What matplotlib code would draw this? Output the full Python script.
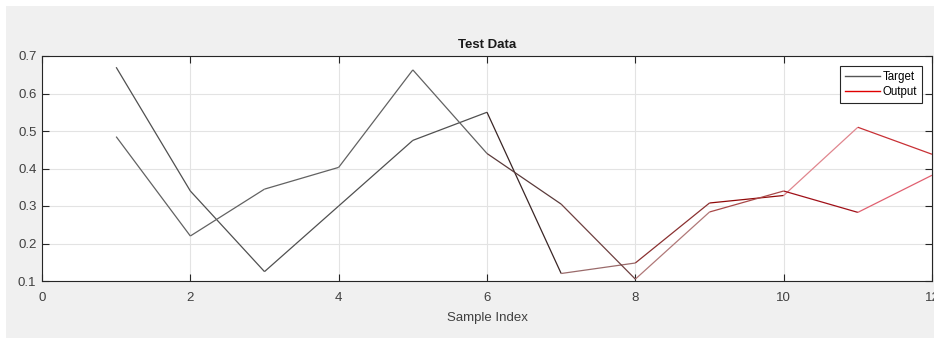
import matplotlib
matplotlib.use("Agg")
import matplotlib.pyplot as plt
from matplotlib.patches import Rectangle
from matplotlib.lines import Line2D

plt.rcParams['font.family'] = ['Liberation Sans', 'DejaVu Sans']

# Data
sample_index = [1, 2, 3, 4, 5, 6, 7, 8, 9, 10, 11, 12]
series_a = [0.670, 0.340, 0.125, 0.300, 0.475, 0.550, 0.120, 0.148, 0.308, 0.328, 0.510, 0.438]
series_b = [0.485, 0.220, 0.345, 0.403, 0.663, 0.440, 0.305, 0.105, 0.284, 0.340, 0.283, 0.382]
legend_labels = ["Target", "Output"]
x_ticks = [0, 2, 4, 6, 8, 10, 12]
y_ticks = [0.1, 0.2, 0.3, 0.4, 0.5, 0.6, 0.7]

# Segment colours (style)
colors_a = ['#505050'] * 5 + ['#3a2626', '#9a6a6a', '#8a3030', '#900808', '#e0868e', '#c83035']
colors_b = ['#626262'] * 5 + ['#5a3a3a', '#6e4040', '#b07878', '#a84848', '#a01018', '#e06070']

W, H = 934, 338
fig = plt.figure(figsize=(W / 100, H / 100), dpi=100, facecolor='white')
fig.patches.append(Rectangle((6 / W, 0), 1 - 6 / W, 1 - 6 / H, transform=fig.transFigure,
                             facecolor='#f0f0f0', edgecolor='none', zorder=-10))

ax = fig.add_axes([42 / W, (H - 281) / H, (932 - 42) / W, (281 - 56) / H])
ax.set_facecolor('white')

for i in range(len(sample_index) - 1):
    ax.plot(sample_index[i:i + 2], series_a[i:i + 2], color=colors_a[i], lw=0.9, solid_capstyle='butt')
    ax.plot(sample_index[i:i + 2], series_b[i:i + 2], color=colors_b[i], lw=0.9, solid_capstyle='butt')

ax.set_xlim(0, 12)
ax.set_ylim(0.1, 0.7)
ax.set_xticks(x_ticks)
ax.set_yticks(y_ticks)
ax.set_yticklabels([f"{v:.1f}" for v in y_ticks])
ax.grid(True, color='#e3e3e3', lw=0.8)
ax.set_axisbelow(True)
ax.tick_params(direction='in', length=5, width=0.8, colors='#262626', labelsize=9.5,
               top=True, right=True)
ax.tick_params(axis='y', pad=4, labelcolor='#404040')
ax.tick_params(axis='x', pad=8, labelcolor='#404040')
for sp in ax.spines.values():
    sp.set_color('#262626')
    sp.set_linewidth(0.8)

ax.set_title("Test Data", fontsize=9.5, fontweight='bold', color='#1a1a1a', pad=6)
ax.set_xlabel("Sample Index", fontsize=9.5, color='#404040', labelpad=6)

handles = [Line2D([0], [0], color='#555555', lw=1.0), Line2D([0], [0], color='#e00000', lw=1.0)]
leg = ax.legend(handles, legend_labels, loc='upper right', fontsize=8.3, fancybox=False,
                edgecolor='#262626', framealpha=1, handlelength=3.0, handletextpad=0.25,
                borderpad=0.4, labelspacing=0.3, borderaxespad=0.9)
leg.get_frame().set_linewidth(0.8)

fig.savefig("out.png", dpi=100, facecolor=fig.get_facecolor())
